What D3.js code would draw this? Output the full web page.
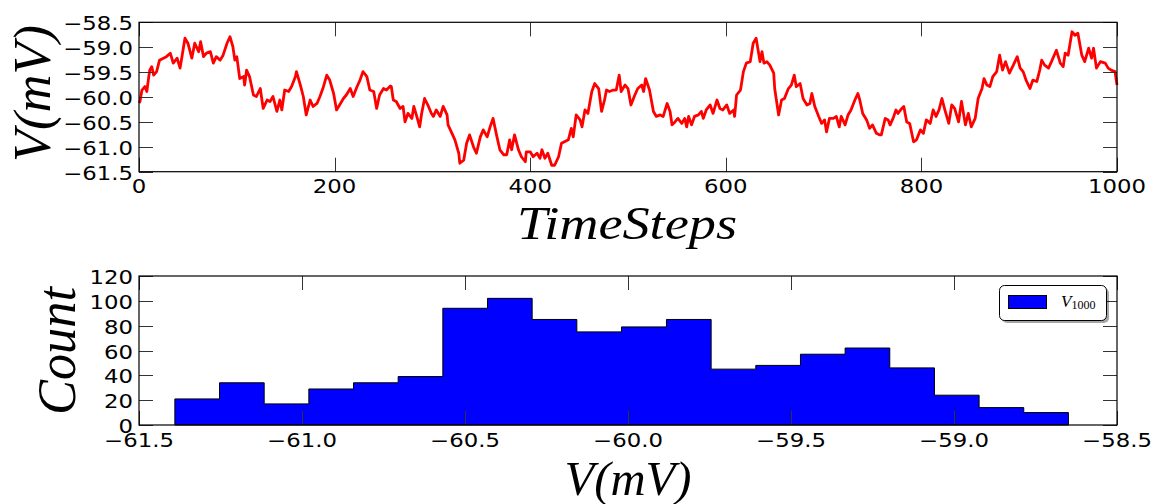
<!DOCTYPE html>
<html>
<head>
<meta charset="utf-8">
<script src="https://cdn.jsdelivr.net/npm/d3@7"></script>
<style>
  html, body { margin: 0; padding: 0; background: #fff; }
  svg { display: block; }
  .tick-label { font-family: "DejaVu Sans", sans-serif; font-size: 19px; fill: #000; }
  .math { font-family: "Liberation Serif", "DejaVu Serif", serif; font-style: italic; fill: #000; }
</style>
</head>
<body>
<svg id="fig" width="1158" height="504"></svg>
<script>
// Membrane potential trace (time step, mV)
const steps = [0,1,3,6,8,10,11,13,15,18,21,25,28,32,35,39,42,45,47,50,54,57,61,63,66,69,73,76,79,83,86,90,93,96,98,100,103,107,108,110,113,117,120,124,127,131,134,137,141,144,146,149,153,156,160,161,165,168,171,175,178,182,185,188,192,195,199,202,206,209,212,216,219,223,226,229,233,236,240,243,246,250,253,
257,258,260,263,267,270,272,275,279,281,284,287,289,292,296,299,301,304,308,311,315,316,320,323,327,328,332,335,338,342,345,349,352,356,359,362,366,369,373,376,379,381,384,388,391,395,396,400,403,407,410,412,415,418,422,425,429,432,435,439,442,444,447,451,453,456,459,463,466,470,473,476,478,481,485,488,491,493,497,500,503,507,510,
514,516,518,522,526,529,533,536,540,543,545,548,551,555,558,560,562,565,568,572,575,577,580,584,587,591,594,597,601,604,608,609,611,615,618,621,625,628,631,635,637,639,642,645,649,650,654,657,660,664,667,670,672,676,679,683,686,688,691,695,698,701,703,706,710,713,716,718,722,725,728,732,735,737,740,744,747,750,754,757,
759,763,766,768,771,774,776,780,782,785,788,792,795,799,802,805,809,812,815,818,821,824,828,831,834,838,841,845,848,851,855,858,862,864,867,870,873,877,880,883,886,890,894,898,901,904,907,911,914,918,921,923,926,930,933,938,942,945,947,950,954,957,960,964,967,971,974,976,979,983,988,991,994,998,1000];

const volts = [-60.12,-60.09,-59.86,-59.79,-59.89,-59.59,-59.46,-59.39,-59.56,-59.49,-59.26,-59.22,-59.19,-59.12,-59.32,-59.22,-59.42,-59.06,-58.82,-58.92,-59.22,-58.92,-59.09,-58.89,-59.19,-59.12,-59.09,-59.32,-59.19,-59.26,-59.16,-58.92,-58.79,-58.99,-59.26,-59.19,-59.63,-59.59,-59.76,-59.46,-59.59,-59.96,-59.99,-59.83,-60.23,-60.06,-60.09,-59.99,-60.29,-60.06,-60.26,-59.86,-59.89,-59.79,-59.59,-59.49,-59.76,-59.99,-60.36,-60.06,-60.19,-60.13,-59.99,-59.83,-59.56,-59.66,-59.93,-60.26,-60.13,-60.03,-59.96,-59.83,-59.99,-59.79,-59.66,-59.49,-59.59,-59.86,-59.89,-60.23,-59.96,-59.83,-59.86,
-59.78,-59.79,-60.06,-60.09,-60.23,-60.19,-60.50,-60.33,-60.43,-60.19,-60.39,-60.60,-60.33,-60.03,-60.19,-60.33,-60.39,-60.26,-60.39,-60.19,-60.36,-60.56,-60.73,-60.86,-61.13,-61.33,-61.27,-60.93,-60.76,-61.00,-61.13,-60.80,-60.66,-60.80,-60.60,-60.43,-60.80,-61.06,-61.16,-61.16,-60.86,-61.06,-60.76,-61.06,-61.20,-61.30,-61.10,-61.10,-61.20,-61.13,-61.23,-61.06,-61.23,-61.13,-61.37,-61.37,-61.20,-60.93,-60.90,-60.86,-60.63,-60.80,-60.36,-60.46,-60.60,-60.26,-60.33,-59.89,-59.73,-59.83,-60.29,-60.06,-59.86,-59.89,-59.86,-59.86,-59.56,-59.89,-59.76,-59.83,-60.16,-59.96,-59.83,
-59.76,-59.89,-59.63,-59.86,-60.29,-60.39,-60.36,-60.39,-60.13,-60.29,-60.56,-60.50,-60.43,-60.53,-60.43,-60.60,-60.39,-60.56,-60.39,-60.36,-60.29,-60.43,-60.26,-60.16,-60.33,-60.06,-60.23,-60.26,-60.16,-60.33,-60.26,-60.39,-59.96,-59.86,-59.49,-59.32,-59.29,-58.92,-58.82,-59.29,-59.09,-59.32,-59.29,-59.36,-59.52,-59.83,-60.36,-60.06,-60.03,-59.83,-59.76,-59.56,-59.79,-59.73,-60.03,-60.16,-60.13,-59.93,-60.19,-60.39,-60.53,-60.46,-60.70,-60.43,-60.43,-60.39,-60.60,-60.39,-60.56,-60.36,-60.26,-60.06,-59.93,-60.06,-60.33,-60.46,-60.63,-60.56,-60.73,-60.76,
-60.76,-60.43,-60.46,-60.56,-60.43,-60.26,-60.33,-60.23,-60.19,-60.50,-60.53,-60.90,-60.86,-60.66,-60.73,-60.46,-60.53,-60.26,-60.39,-60.26,-60.03,-60.26,-60.53,-60.16,-60.23,-60.50,-60.09,-60.56,-60.33,-60.60,-60.43,-60.03,-59.83,-59.63,-59.76,-59.79,-59.59,-59.49,-59.16,-59.46,-59.29,-59.52,-59.36,-59.19,-59.42,-59.49,-59.66,-59.83,-59.66,-59.69,-59.46,-59.26,-59.36,-59.42,-59.29,-59.06,-59.32,-59.39,-59.12,-59.16,-58.69,-58.76,-58.72,-59.16,-59.29,-59.02,-59.22,-59.02,-59.42,-59.29,-59.32,-59.42,-59.46,-59.49,-59.76];

// Histogram of the potential: 20 bins
const binEdges = [-61.390,-61.253,-61.116,-60.979,-60.842,-60.705,-60.568,-60.431,-60.294,-60.157,-60.020,-59.882,-59.745,-59.608,-59.471,-59.334,-59.197,-59.060,-58.923,-58.786,-58.649];
const counts = [21,34,17,29,34,39,94,102,85,75,79,85,45,48,57,62,46,24,14,10];

// Tick values
const traceXTicks = [0,200,400,600,800,1000];
const traceYTicks = [-58.5,-59.0,-59.5,-60.0,-60.5,-61.0,-61.5];
const histXTicks = [-61.5,-61.0,-60.5,-60.0,-59.5,-59.0,-58.5];
const histYTicks = [0,20,40,60,80,100,120];

const svg = d3.select("#fig");
const fmt1 = v => d3.format(".1f")(v).replace("-", "\u2212");

const L = 139, R = 1117;
const top1 = 22.3, bot1 = 171.7;
const top2 = 276, bot2 = 425;
const tickLen = 14;
const labelStretch = 1.2;

function tickText(g, x, y, anchor, str) {
  g.append("text").attr("class", "tick-label")
    .attr("transform", `translate(${x},${y}) scale(${labelStretch},1)`)
    .attr("text-anchor", anchor).text(str);
}

function frame(g, x, y, xTicks, yTicks, xFmt, yFmt, yT, yB) {
  // ticks on all four sides, pointing inward
  const tg = g.append("g").attr("stroke", "#333").attr("stroke-width", 1);
  xTicks.forEach(v => {
    const px = Math.round(x(v)) + 0.5;
    tg.append("line").attr("x1", px).attr("x2", px).attr("y1", yB).attr("y2", yB - tickLen);
    tg.append("line").attr("x1", px).attr("x2", px).attr("y1", yT).attr("y2", yT + tickLen);
  });
  yTicks.forEach(v => {
    const py = Math.round(y(v)) + 0.5;
    tg.append("line").attr("x1", L).attr("x2", L + tickLen).attr("y1", py).attr("y2", py);
    tg.append("line").attr("x1", R).attr("x2", R - tickLen).attr("y1", py).attr("y2", py);
  });
  g.append("rect").attr("x", L).attr("y", yT).attr("width", R - L).attr("height", yB - yT)
    .attr("fill", "none").attr("stroke", "#000").attr("stroke-width", 1.2);
  xTicks.forEach(v => tickText(g, x(v), yB + 21.5, "middle", xFmt(v)));
  yTicks.forEach(v => tickText(g, L - 6, y(v) + 8, "end", yFmt(v)));
}

// --- Top panel: voltage trace ---
const x1 = d3.scaleLinear().domain([0, 1000]).range([L, R]);
const y1 = d3.scaleLinear().domain([-61.5, -58.5]).range([bot1, top1]);
const g1 = svg.append("g");
const trace = steps.map((s, i) => [s, volts[i]]);
g1.append("path")
  .attr("d", d3.line().x(d => x1(d[0])).y(d => y1(d[1]))(trace))
  .attr("fill", "none").attr("stroke", "#ff0000").attr("stroke-width", 2.8)
  .attr("stroke-linejoin", "round");
frame(g1, x1, y1, traceXTicks, traceYTicks, v => String(v), fmt1, top1, bot1);

// --- Bottom panel: histogram (step-filled) ---
const x2 = d3.scaleLinear().domain([-61.5, -58.5]).range([L, R]);
const y2 = d3.scaleLinear().domain([0, 120]).range([bot2, top2]);
const g2 = svg.append("g");
const stepPts = [[binEdges[0], 0]];
counts.forEach((c, i) => { stepPts.push([binEdges[i], c]); stepPts.push([binEdges[i + 1], c]); });
stepPts.push([binEdges[binEdges.length - 1], 0]);
g2.append("path")
  .attr("d", d3.line().x(d => x2(d[0])).y(d => y2(d[1]))(stepPts) + "Z")
  .attr("fill", "#0000ff").attr("stroke", "#000").attr("stroke-width", 1);
frame(g2, x2, y2, histXTicks, histYTicks, fmt1, v => String(v), top2, bot2);

// Legend
const lg = svg.append("g");
lg.append("rect").attr("x", 1002).attr("y", 288).attr("width", 107).attr("height", 35).attr("rx", 5)
  .attr("fill", "#000").attr("opacity", 0.35);
lg.append("rect").attr("x", 999.5).attr("y", 285.5).attr("width", 107).attr("height", 35).attr("rx", 5)
  .attr("fill", "#fff").attr("stroke", "#000").attr("stroke-width", 1);
lg.append("rect").attr("x", 1008.5).attr("y", 295.5).attr("width", 38).attr("height", 13)
  .attr("fill", "#0000ff").attr("stroke", "#000").attr("stroke-width", 1);
const lt = lg.append("text").attr("x", 1061).attr("y", 307).attr("class", "math").attr("font-size", 17);
lt.append("tspan").text("V");
lt.append("tspan").attr("font-style", "normal").attr("font-size", 12).attr("dy", 2).text("1000");

// Axis labels
function label(txt, x, y, size, len, rot) {
  const t = svg.append("text").attr("class", "math").attr("font-size", size)
    .attr("text-anchor", "middle").attr("textLength", len).attr("lengthAdjust", "spacingAndGlyphs")
    .text(txt);
  if (rot) t.attr("transform", `translate(${x},${y}) rotate(-90)`);
  else t.attr("x", x).attr("y", y);
}
label("TimeSteps", 627, 239, 46, 220, false);
label("V(mV)", 628, 495, 48, 127, false);
label("V(mV)", 50, 93.5, 52, 137, true);
label("Count", 75, 351, 54, 128, true);
</script>
</body>
</html>
